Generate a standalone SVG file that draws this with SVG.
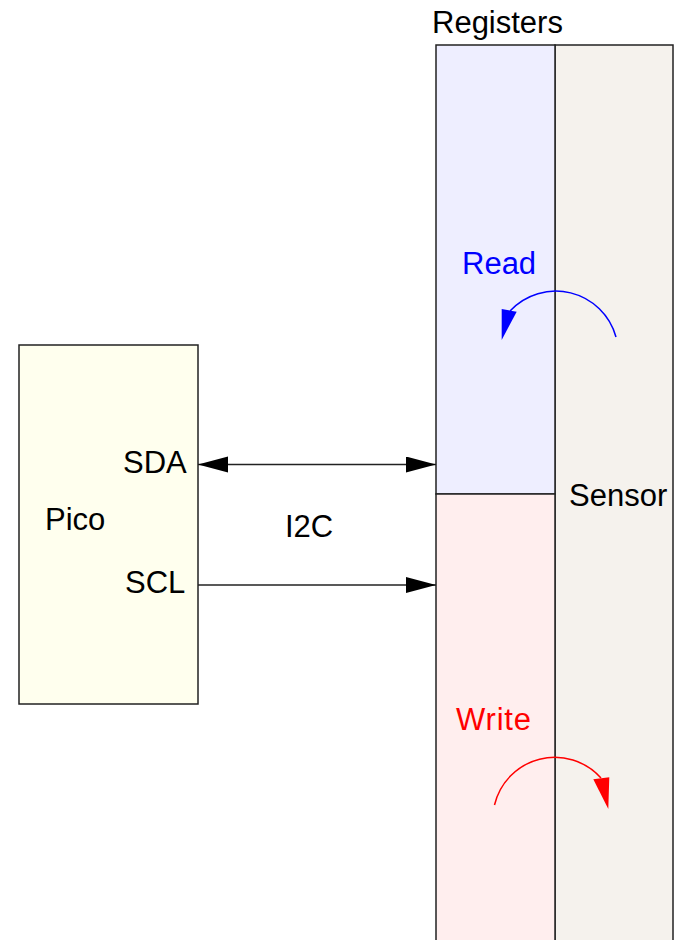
<svg xmlns="http://www.w3.org/2000/svg" width="675" height="940" viewBox="0 0 675 940">
<defs>
<style>
.box{stroke:#222;stroke-width:1.5}
.lbl{font-family:"Liberation Sans",Arial,Helvetica,sans-serif;font-size:31px;fill:#000}
.wire{stroke:#222;stroke-width:1.5;fill:none}
</style>
<marker id="ah" markerUnits="userSpaceOnUse" markerWidth="32" markerHeight="18" refX="30" refY="8" orient="auto-start-reverse" viewBox="0 0 32 18">
<path d="M0,0 L30,8 L0,16 Z" fill="#000"/>
</marker>
</defs>
<rect width="675" height="940" fill="#fff"/>
<g id="pico">
<rect class="box" x="19" y="345" width="179" height="359" fill="#ffffee"/>
<text class="lbl" x="45" y="530">Pico</text>
<text class="lbl" x="123" y="473">SDA</text>
<text class="lbl" x="125" y="593">SCL</text>
</g>
<g id="sensor">
<rect class="box" x="555" y="45" width="118" height="910" fill="#f5f2ed"/>
<text class="lbl" x="569" y="506">Sensor</text>
</g>
<g id="registers">
<text class="lbl" x="432" y="33">Registers</text>
<rect class="box" x="436" y="45" width="119" height="449" fill="#eeeeff"/>
<rect class="box" x="436" y="494" width="119" height="460" fill="#ffeeee"/>
<text class="lbl" x="462" y="274" style="fill:#0000ff">Read</text>
<text class="lbl" x="456" y="730" textLength="75" style="fill:#ff0000">Write</text>
</g>
<g id="connectors">
<line class="wire" x1="198" y1="464.5" x2="436" y2="464.5" marker-start="url(#ah)" marker-end="url(#ah)"/>
<line class="wire" x1="198" y1="585" x2="436" y2="585" marker-end="url(#ah)"/>
<text class="lbl" x="285" y="537">I2C</text>
<path d="M616,337 A62.5,62.5 0 0 0 510,311" fill="none" stroke="#0000ff" stroke-width="1.5"/>
<path d="M501.7,309 L516.7,311.7 L501.7,340 Z" fill="#0000ff"/>
<path d="M494.5,805 A62,62 0 0 1 601,778" fill="none" stroke="#ff0000" stroke-width="1.5"/>
<path d="M593.3,779.3 L609.3,777.3 L608.3,809 Z" fill="#ff0000"/>
</g>
</svg>
